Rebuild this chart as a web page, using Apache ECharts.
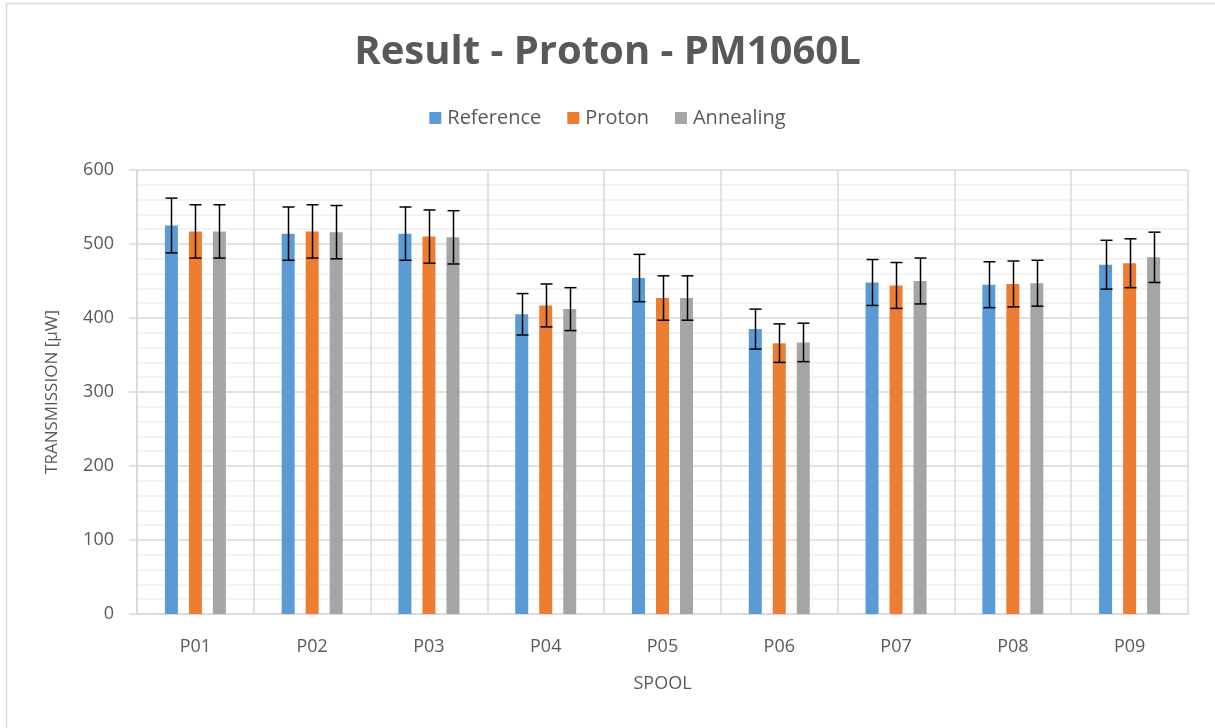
<!DOCTYPE html>
<html>
<head>
<meta charset="utf-8">
<script src="https://cdn.jsdelivr.net/npm/echarts@6/dist/echarts.min.js"></script>
<style>
html,body{margin:0;padding:0;background:#fff;}
#chart{width:1215px;height:728px;}
</style>
</head>
<body>
<div id="chart"></div>
<script>
const categories = ['P01','P02','P03','P04','P05','P06','P07','P08','P09'];
const seriesNames = ['Reference','Proton','Annealing'];
const referenceValues = [525, 514, 514, 405, 454, 385, 448, 445, 472];
const referenceErrors = [37, 36, 36, 28, 32, 27, 31, 31, 33];
const protonValues = [517, 517, 510, 417, 427, 366, 444, 446, 474];
const protonErrors = [36, 36, 36, 29, 30, 26, 31, 31, 33];
const annealingValues = [517, 516, 509, 412, 427, 367, 450, 447, 482];
const annealingErrors = [36, 36, 36, 29, 30, 26, 31, 31, 34];
const yTicks = [0, 100, 200, 300, 400, 500, 600];

const colors = ['#5B9BD5', '#ED7D31', '#A5A5A5'];
const BAR_W = 13;
const BAR_GAP_PX = 11;
const textColor = '#595959';
const font = '"Open Sans", Lato, sans-serif';

const values = [referenceValues, protonValues, annealingValues];
const errors = [referenceErrors, protonErrors, annealingErrors];

const series = [];
values.forEach((vals, i) => {
  series.push({
    name: seriesNames[i],
    type: 'bar',
    data: vals,
    barWidth: BAR_W,
    barGap: (BAR_GAP_PX / BAR_W * 100) + '%',
    itemStyle: { color: colors[i] },
    z: 2
  });
});
values.forEach((vals, i) => {
  const offset = (i - 1) * (BAR_W + BAR_GAP_PX);
  series.push({
    name: seriesNames[i] + ' err',
    type: 'custom',
    z: 5,
    silent: true,
    data: vals.map((v, k) => [k, v - errors[i][k], v + errors[i][k]]),
    renderItem: function (params, api) {
      const x = api.value(0);
      const lo = api.coord([x, api.value(1)]);
      const hi = api.coord([x, api.value(2)]);
      const cx = Math.round(lo[0] + offset) + 0.5;
      const half = 6;
      const style = { stroke: '#000', lineWidth: 1.5 };
      return {
        type: 'group',
        children: [
          { type: 'line', shape: { x1: cx, y1: hi[1], x2: cx, y2: lo[1] }, style: style },
          { type: 'line', shape: { x1: cx - half, y1: hi[1], x2: cx + half, y2: hi[1] }, style: style },
          { type: 'line', shape: { x1: cx - half, y1: lo[1], x2: cx + half, y2: lo[1] }, style: style }
        ]
      };
    }
  });
});

const chart = echarts.init(document.getElementById('chart'), null, { renderer: 'canvas' });
chart.setOption({
  animation: false,
  backgroundColor: '#fff',
  color: colors,
  graphic: [{
    type: 'rect',
    shape: { x: 6.5, y: 3.5, width: 1300, height: 800 },
    style: { fill: 'none', stroke: '#d9d9d9', lineWidth: 1.5 },
    silent: true, z: -10
  }],
  title: {
    text: 'Result - Proton - PM1060L',
    left: 'center',
    top: 28,
    textStyle: { color: textColor, fontFamily: font, fontWeight: 'bold', fontSize: 40 }
  },
  legend: {
    data: seriesNames,
    top: 103,
    left: 'center',
    itemWidth: 12,
    itemHeight: 12,
    itemGap: 26,
    icon: 'rect',
    textStyle: { color: textColor, fontFamily: font, fontSize: 20, padding: [0, 0, 0, 1] }
  },
  grid: { left: 137, right: 27, top: 170, bottom: 114, containLabel: false },
  xAxis: {
    type: 'category',
    data: categories,
    name: 'SPOOL',
    nameLocation: 'middle',
    nameGap: 61,
    nameTextStyle: { color: textColor, fontFamily: font, fontSize: 18 },
    axisLine: { show: true, lineStyle: { color: '#d9d9d9', width: 1.5 } },
    axisTick: { show: false },
    axisLabel: { color: textColor, fontFamily: font, fontSize: 18, margin: 24 },
    splitLine: { show: true, lineStyle: { color: '#d9d9d9', width: 1.5 } }
  },
  yAxis: {
    type: 'value',
    min: yTicks[0],
    max: yTicks[yTicks.length - 1],
    interval: 100,
    name: 'TRANSMISSION [µW]',
    nameLocation: 'middle',
    nameGap: 76,
    nameTextStyle: { color: textColor, fontFamily: font, fontSize: 17 },
    axisLine: { show: true, lineStyle: { color: '#d9d9d9', width: 1.5 } },
    axisTick: { show: true, length: 8, lineStyle: { color: '#d9d9d9', width: 1.5 } },
    axisLabel: { color: textColor, fontFamily: font, fontSize: 18, margin: 23 },
    splitLine: { show: true, lineStyle: { color: '#d9d9d9', width: 1.5 } },
    minorTick: { show: false, splitNumber: 5 },
    minorSplitLine: { show: true, lineStyle: { color: '#f0f0f0', width: 1.5 } }
  },
  series: series
});
</script>
</body>
</html>
